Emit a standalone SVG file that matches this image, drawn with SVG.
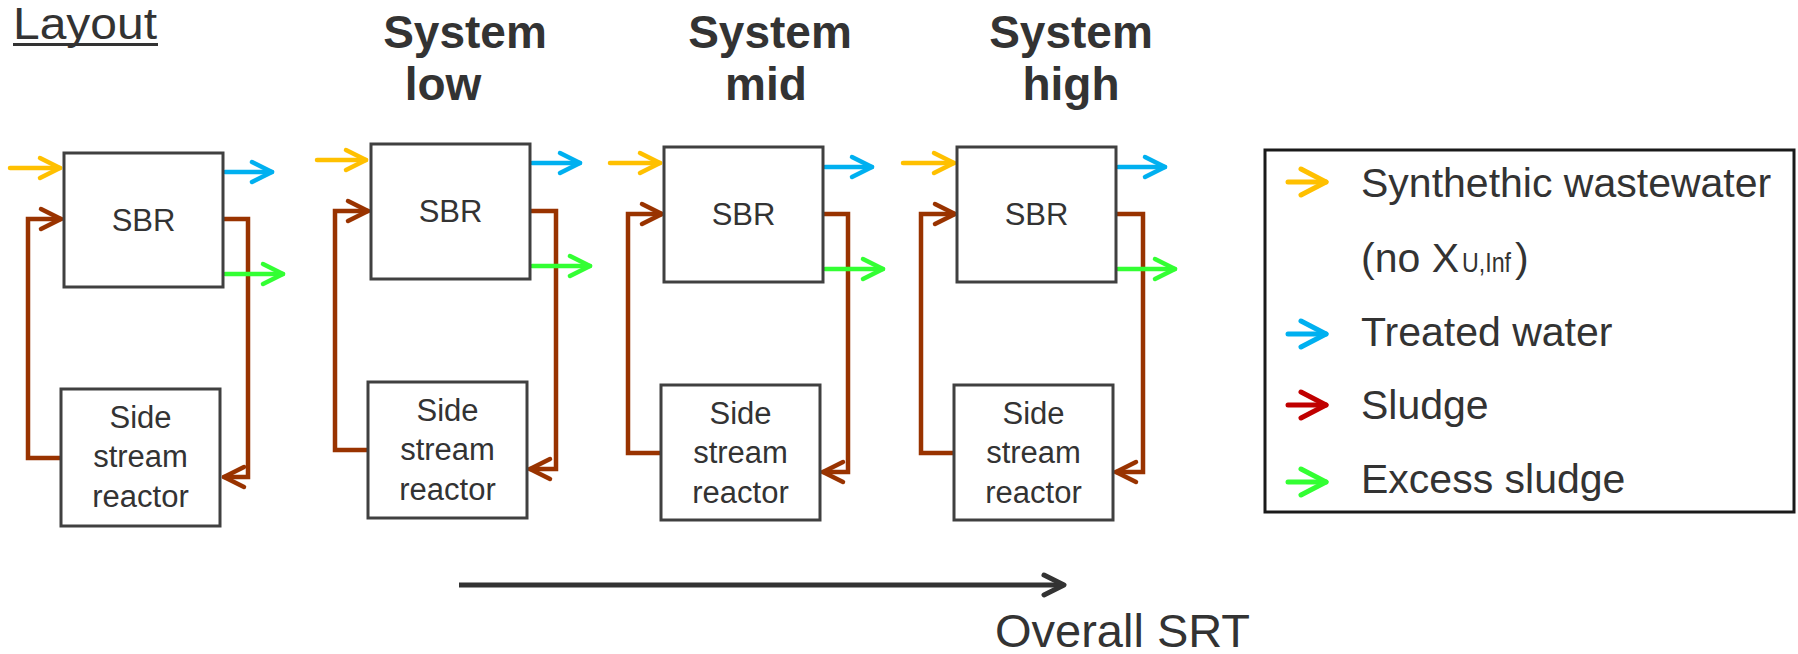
<svg xmlns="http://www.w3.org/2000/svg" width="1798" height="654" viewBox="0 0 1798 654">
<style>
.box{fill:#fff;stroke:#404040;stroke-width:3}
.lbl{font-family:"Liberation Sans",Arial,sans-serif;fill:#333;font-size:31px;text-anchor:middle}
.ttl{font-family:"Liberation Sans",Arial,sans-serif;fill:#333;font-size:46px;font-weight:bold;text-anchor:middle}
.leg{font-family:"Liberation Sans",Arial,sans-serif;fill:#333;font-size:41px}
.f{fill:none;stroke-width:4.5;stroke-linecap:round;stroke-linejoin:miter}
.y{stroke:#FFC000}.b{stroke:#00B0F0}.g{stroke:#33FF33}.br{stroke:#993300}.r{stroke:#C00000}
</style>
<defs>
<marker id="my" markerUnits="userSpaceOnUse" viewBox="-26 -14 30 28" markerWidth="30" markerHeight="28" refX="0" refY="0" orient="auto" overflow="visible"><path d="M-20 -10 L0 0 L-20 10" fill="none" stroke="#FFC000" stroke-width="4.5" stroke-linecap="round" stroke-linejoin="round"/></marker>
<marker id="mb" markerUnits="userSpaceOnUse" viewBox="-26 -14 30 28" markerWidth="30" markerHeight="28" refX="0" refY="0" orient="auto" overflow="visible"><path d="M-20 -10 L0 0 L-20 10" fill="none" stroke="#00B0F0" stroke-width="4.5" stroke-linecap="round" stroke-linejoin="round"/></marker>
<marker id="mg" markerUnits="userSpaceOnUse" viewBox="-26 -14 30 28" markerWidth="30" markerHeight="28" refX="0" refY="0" orient="auto" overflow="visible"><path d="M-20 -10 L0 0 L-20 10" fill="none" stroke="#33FF33" stroke-width="4.5" stroke-linecap="round" stroke-linejoin="round"/></marker>
<marker id="mbr" markerUnits="userSpaceOnUse" viewBox="-26 -14 30 28" markerWidth="30" markerHeight="28" refX="0" refY="0" orient="auto" overflow="visible"><path d="M-20 -10 L0 0 L-20 10" fill="none" stroke="#993300" stroke-width="4.5" stroke-linecap="round" stroke-linejoin="round"/></marker>
<marker id="lmy" markerUnits="userSpaceOnUse" viewBox="-30 -16 34 32" markerWidth="34" markerHeight="32" refX="0" refY="0" orient="auto" overflow="visible"><path d="M-25 -13 L0 0 L-25 13" fill="none" stroke="#FFC000" stroke-width="5" stroke-linecap="round" stroke-linejoin="round"/></marker>
<marker id="lmb" markerUnits="userSpaceOnUse" viewBox="-30 -16 34 32" markerWidth="34" markerHeight="32" refX="0" refY="0" orient="auto" overflow="visible"><path d="M-25 -13 L0 0 L-25 13" fill="none" stroke="#00B0F0" stroke-width="5" stroke-linecap="round" stroke-linejoin="round"/></marker>
<marker id="lmr" markerUnits="userSpaceOnUse" viewBox="-30 -16 34 32" markerWidth="34" markerHeight="32" refX="0" refY="0" orient="auto" overflow="visible"><path d="M-25 -13 L0 0 L-25 13" fill="none" stroke="#C00000" stroke-width="5" stroke-linecap="round" stroke-linejoin="round"/></marker>
<marker id="lmg" markerUnits="userSpaceOnUse" viewBox="-30 -16 34 32" markerWidth="34" markerHeight="32" refX="0" refY="0" orient="auto" overflow="visible"><path d="M-25 -13 L0 0 L-25 13" fill="none" stroke="#33FF33" stroke-width="5" stroke-linecap="round" stroke-linejoin="round"/></marker>
<marker id="mk" markerUnits="userSpaceOnUse" viewBox="-26 -14 30 28" markerWidth="30" markerHeight="28" refX="0" refY="0" orient="auto" overflow="visible"><path d="M-20 -10 L0 0 L-20 10" fill="none" stroke="#333" stroke-width="5" stroke-linecap="round" stroke-linejoin="round"/></marker>
</defs>
<rect width="1798" height="654" fill="#fff"/>

<g id="titles">
<text x="13" y="39" font-family="Liberation Sans,Arial,sans-serif" font-size="44" fill="#333" textLength="144" lengthAdjust="spacingAndGlyphs">Layout</text>
<rect x="13" y="43" width="145" height="3" fill="#333"/>
<text class="ttl" x="465" y="48">System</text><text class="ttl" x="443" y="100">low</text>
<text class="ttl" x="770" y="48">System</text><text class="ttl" x="766" y="100">mid</text>
<text class="ttl" x="1071" y="48">System</text><text class="ttl" x="1071" y="100">high</text>
</g>

<g id="connectors">
<path class="f br" d="M221 219 H248 V477 H224" marker-end="url(#mbr)"/>
<path class="f br" d="M62 458 H28 V219 H61" marker-end="url(#mbr)"/>
<path class="f y" d="M10 168 H60" marker-end="url(#my)"/>
<path class="f b" d="M225 172 H272" marker-end="url(#mb)"/>
<path class="f g" d="M225 274 H283" marker-end="url(#mg)"/>
<path class="f br" d="M528 211 H556 V469 H530" marker-end="url(#mbr)"/>
<path class="f br" d="M369 450 H335 V211 H368" marker-end="url(#mbr)"/>
<path class="f y" d="M317 160 H366" marker-end="url(#my)"/>
<path class="f b" d="M532 163 H580" marker-end="url(#mb)"/>
<path class="f g" d="M532 266 H590" marker-end="url(#mg)"/>
<path class="f br" d="M821 214 H848 V472 H823" marker-end="url(#mbr)"/>
<path class="f br" d="M662 453 H628 V214 H662" marker-end="url(#mbr)"/>
<path class="f y" d="M610 163 H660" marker-end="url(#my)"/>
<path class="f b" d="M825 167 H872" marker-end="url(#mb)"/>
<path class="f g" d="M825 269 H883" marker-end="url(#mg)"/>
<path class="f br" d="M1114 214 H1143 V472 H1116" marker-end="url(#mbr)"/>
<path class="f br" d="M955 453 H921 V214 H955" marker-end="url(#mbr)"/>
<path class="f y" d="M903 163 H954" marker-end="url(#my)"/>
<path class="f b" d="M1118 167 H1165" marker-end="url(#mb)"/>
<path class="f g" d="M1118 269 H1175" marker-end="url(#mg)"/>
<path d="M459 585 H1064" fill="none" stroke="#333" stroke-width="5" marker-end="url(#mk)"/>
</g>

<g id="p1-sbr"><rect class="box" x="64" y="153" width="159" height="134"/><text class="lbl" x="143.5" y="231">SBR</text></g>
<g id="p1-side"><rect class="box" x="61" y="389" width="159" height="137"/><text class="lbl" x="140.5" y="428">Side</text><text class="lbl" x="140.5" y="467">stream</text><text class="lbl" x="140.5" y="507">reactor</text></g>

<g id="p2-sbr"><rect class="box" x="371" y="144" width="159" height="135"/><text class="lbl" x="450.5" y="222">SBR</text></g>
<g id="p2-side"><rect class="box" x="368" y="382" width="159" height="136"/><text class="lbl" x="447.5" y="421">Side</text><text class="lbl" x="447.5" y="460">stream</text><text class="lbl" x="447.5" y="500">reactor</text></g>

<g id="p3-sbr"><rect class="box" x="664" y="147" width="159" height="135"/><text class="lbl" x="743.5" y="225">SBR</text></g>
<g id="p3-side"><rect class="box" x="661" y="385" width="159" height="135"/><text class="lbl" x="740.5" y="424">Side</text><text class="lbl" x="740.5" y="463">stream</text><text class="lbl" x="740.5" y="503">reactor</text></g>

<g id="p4-sbr"><rect class="box" x="957" y="147" width="159" height="135"/><text class="lbl" x="1036.5" y="225">SBR</text></g>
<g id="p4-side"><rect class="box" x="954" y="385" width="159" height="135"/><text class="lbl" x="1033.5" y="424">Side</text><text class="lbl" x="1033.5" y="463">stream</text><text class="lbl" x="1033.5" y="503">reactor</text></g>

<g id="axis-label"><text x="995" y="647" font-family="Liberation Sans,Arial,sans-serif" font-size="47" fill="#333">Overall SRT</text></g>

<g id="legend">
<rect x="1265" y="150" width="529" height="362" fill="#fff" stroke="#1a1a1a" stroke-width="3"/>
<path d="M1288 182 H1326" fill="none" stroke="#FFC000" stroke-width="5" stroke-linecap="round" marker-end="url(#lmy)"/>
<path d="M1288 334 H1326" fill="none" stroke="#00B0F0" stroke-width="5" stroke-linecap="round" marker-end="url(#lmb)"/>
<path d="M1288 405 H1326" fill="none" stroke="#C00000" stroke-width="5" stroke-linecap="round" marker-end="url(#lmr)"/>
<path d="M1288 482 H1326" fill="none" stroke="#33FF33" stroke-width="5" stroke-linecap="round" marker-end="url(#lmg)"/>
<text class="leg" x="1361" y="197">Synthethic wastewater</text>
<text class="leg" x="1361" y="272">(no X</text>
<text x="1462" y="272" font-family="Liberation Sans,Arial,sans-serif" font-size="27" fill="#333" textLength="49" lengthAdjust="spacingAndGlyphs">U,Inf</text>
<text class="leg" x="1515" y="272">)</text>
<text class="leg" x="1361" y="346">Treated water</text>
<text class="leg" x="1361" y="419">Sludge</text>
<text class="leg" x="1361" y="493">Excess sludge</text>
</g>
</svg>
